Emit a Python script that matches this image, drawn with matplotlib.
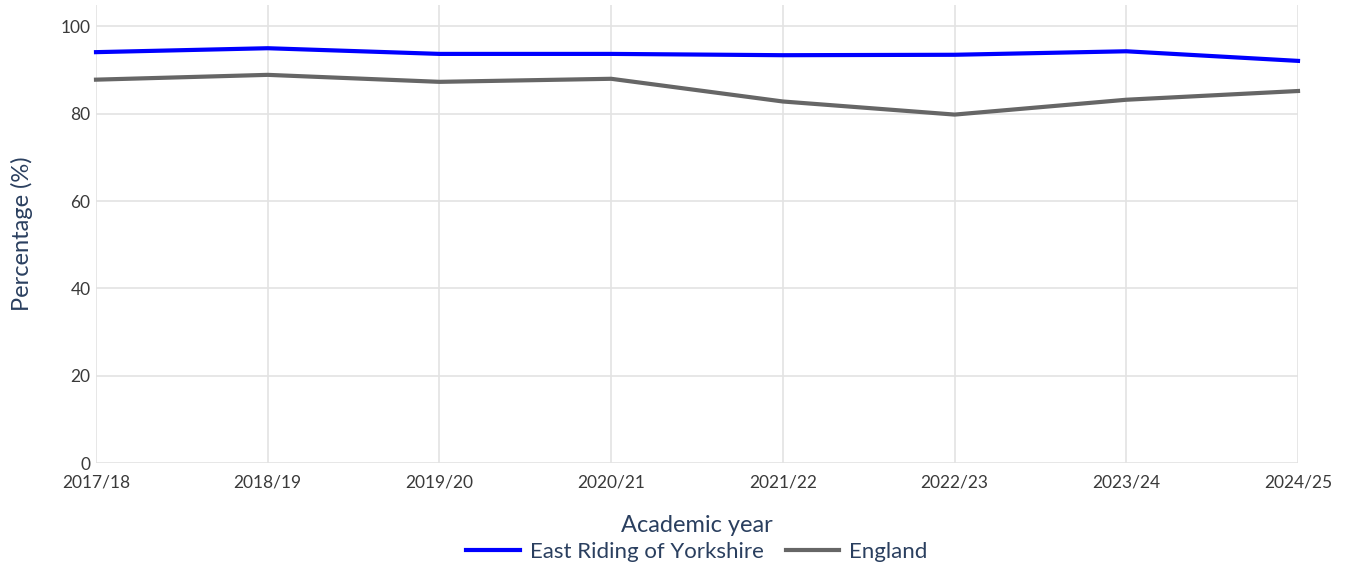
import matplotlib
matplotlib.use("Agg")
import matplotlib.pyplot as plt
from matplotlib.lines import Line2D

years = ["2017/18", "2018/19", "2019/20", "2020/21", "2021/22", "2022/23", "2023/24", "2024/25"]
east_riding = [94.1, 95.0, 93.7, 93.7, 93.4, 93.5, 94.3, 92.1]
england = [87.8, 88.9, 87.3, 88.0, 82.8, 79.8, 83.2, 85.2]
yticks = [0, 20, 40, 60, 80, 100]

plt.rcParams['font.family'] = ['Lato', 'DejaVu Sans']

fig = plt.figure(figsize=(13.55, 5.68), dpi=100)
ax = fig.add_axes([96/1355, 1-463/568, (1298-96)/1355, (463-5)/568])

x = list(range(len(years)))
ax.plot(x, east_riding, color="#0000ff", lw=3, solid_joinstyle='round', zorder=3, clip_on=False)
ax.plot(x, england, color="#666666", lw=3, solid_joinstyle='round', zorder=3, clip_on=False)

ax.set_xlim(0, len(years)-1)
ax.set_ylim(0, 104.9)
ax.set_xticks(x)
ax.set_xticklabels(years)
ax.set_yticks(yticks)
ax.grid(True, color="#e3e3e3", lw=1.2)
ax.set_axisbelow(True)
for s in ax.spines.values():
    s.set_visible(False)
ax.tick_params(axis='both', length=0, labelsize=12.5, labelcolor="#3a3a3a")
ax.tick_params(axis='x', pad=8)
ax.tick_params(axis='y', pad=4)

ax.set_xlabel("Academic year", fontsize=17, color="#2a3f5f", labelpad=18)
ax.set_ylabel("Percentage (%)", fontsize=17, color="#2a3f5f", labelpad=20)

handles = [Line2D([0], [0], color="#0000ff", lw=3),
           Line2D([0], [0], color="#666666", lw=3)]
fig.legend(handles, ["East Riding of Yorkshire", "England"], loc="center",
           bbox_to_anchor=(697/1355, 1-552/568), ncol=2, frameon=False,
           fontsize=16, labelcolor="#2a3f5f", handlelength=2.4, columnspacing=1.0,
           handletextpad=0.45)

fig.savefig("out.png", dpi=100)
